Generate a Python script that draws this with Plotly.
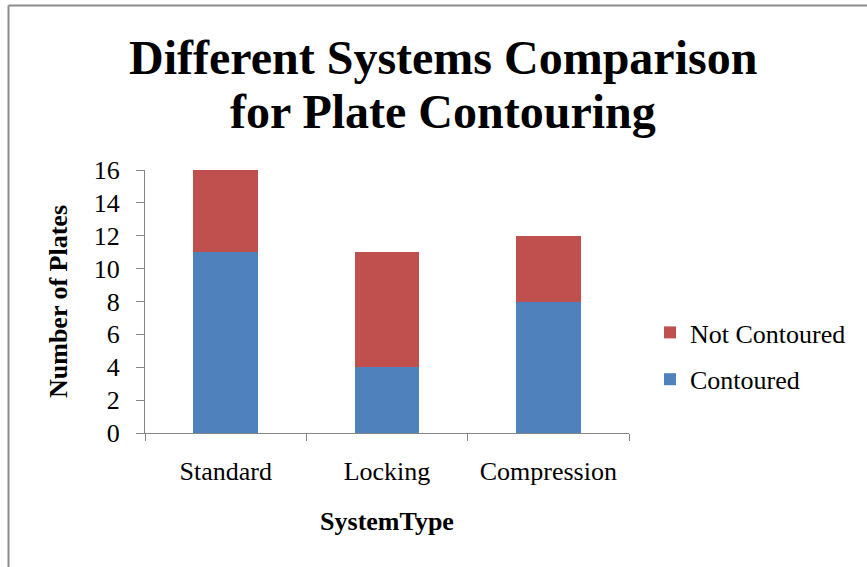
import plotly.graph_objects as go

categories = ["Standard", "Locking", "Compression"]
contoured = [11, 4, 8]
not_contoured = [5, 7, 4]
y_ticks = [0, 2, 4, 6, 8, 10, 12, 14, 16]
title_lines = ["Different Systems Comparison", "for Plate Contouring"]

FONT = "Liberation Serif, Times New Roman, serif"

fig = go.Figure()
fig.add_trace(go.Bar(x=categories, y=contoured, name="Contoured",
                     marker=dict(color="#4F81BD", line=dict(width=0)),
                     legendgroup="a", legendrank=2))
fig.add_trace(go.Bar(x=categories, y=not_contoured, name="Not Contoured",
                     marker=dict(color="#C0504D", line=dict(width=0)),
                     legendgroup="b", legendrank=1))

L, R, T, B = 145, 629, 170, 433
W, H = 867, 567
pw, ph = R - L, B - T

def px(x):
    return (x - L) / pw

def py(y):
    return (B - y) / ph

annotations = [
    dict(text=f"<b>{title_lines[0]}</b>", x=px(443), y=py(58), xref="paper", yref="paper",
         xanchor="center", yanchor="middle", showarrow=False,
         font=dict(family=FONT, size=48, color="black")),
    dict(text=f"<b>{title_lines[1]}</b>", x=px(443), y=py(112), xref="paper", yref="paper",
         xanchor="center", yanchor="middle", showarrow=False,
         font=dict(family=FONT, size=48, color="black")),
]

fig.update_layout(
    width=W, height=H,
    barmode="stack", bargap=0.6,
    paper_bgcolor="white", plot_bgcolor="white",
    margin=dict(l=L, r=W - R, t=T, b=H - B, pad=0),
    font=dict(family=FONT, color="black", size=26),
    showlegend=True,
    legend=dict(x=px(650), y=py(309), xanchor="left", yanchor="top",
                traceorder="grouped", tracegroupgap=10,
                font=dict(family=FONT, size=26, color="black"),
                itemwidth=30, bgcolor="rgba(0,0,0,0)"),
    xaxis=dict(showline=True, linecolor="#868686", linewidth=1,
               ticks="outside", tickson="boundaries", ticklen=7, tickcolor="#868686",
               tickfont=dict(family=FONT, size=26), ticklabelstandoff=15,
               title=dict(text="<b>SystemType</b>", font=dict(family=FONT, size=26), standoff=26),
               showgrid=False, zeroline=False),
    yaxis=dict(range=[0, 16], tickvals=y_ticks, showline=True, linecolor="#868686", linewidth=1,
               ticks="outside", ticklen=8, tickcolor="#868686",
               tickfont=dict(family=FONT, size=26), ticklabelstandoff=11,
               title=dict(text="<b>Number of Plates</b>", font=dict(family=FONT, size=26), standoff=18),
               showgrid=False, zeroline=False),
    annotations=annotations,
    shapes=[
        dict(type="line", xref="paper", yref="paper", x0=px(8.5), x1=px(880),
             y0=py(5.5), y1=py(5.5), line=dict(color="#8C8C8C", width=2)),
        dict(type="line", xref="paper", yref="paper", x0=px(8.5), x1=px(8.5),
             y0=py(5.5), y1=py(580), line=dict(color="#8C8C8C", width=2)),
    ],
)

fig.write_html("out.html", config={"displayModeBar": False},
               post_script="document.body.style.margin='0';")
